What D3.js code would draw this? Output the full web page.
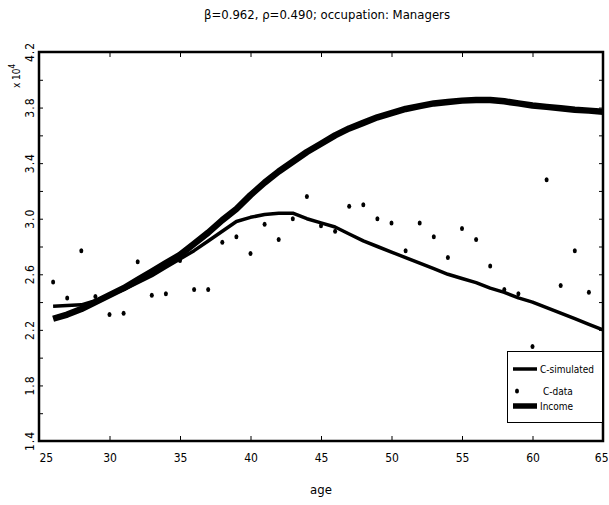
<!DOCTYPE html>
<html>
<head>
<meta charset="utf-8">
<script src="https://cdn.jsdelivr.net/npm/d3@7"></script>
<style>
  html, body { margin: 0; padding: 0; background: #fff; }
  svg { display: block; }
  text { font-family: "DejaVu Sans Condensed", "Liberation Sans Narrow", "Liberation Sans", sans-serif; fill: #000; }
</style>
</head>
<body>
<svg id="chart" width="609" height="505"></svg>
<script>
// ---- data (values in units of 10^4) ----
const ages = d3.range(26, 66);
const cSimulated = [2.37, 2.375, 2.38, 2.41, 2.45, 2.49, 2.54, 2.59, 2.65, 2.71,
  2.77, 2.84, 2.91, 2.98, 3.01, 3.03, 3.04, 3.04, 3.00, 2.97,
  2.94, 2.89, 2.84, 2.80, 2.76, 2.72, 2.68, 2.64, 2.60, 2.57,
  2.54, 2.50, 2.47, 2.43, 2.40, 2.36, 2.32, 2.28, 2.24, 2.20];
const cData = [2.545, 2.43, 2.77, 2.44, 2.31, 2.32, 2.69, 2.45, 2.46, 2.70,
  2.49, 2.49, 2.83, 2.87, 2.75, 2.96, 2.85, 3.00, 3.16, 2.95,
  2.91, 3.09, 3.10, 3.00, 2.97, 2.77, 2.97, 2.87, 2.72, 2.93,
  2.85, 2.66, 2.49, 2.46, 2.08, 3.28, 2.52, 2.77, 2.47, 1.63];
const income = [2.28, 2.31, 2.35, 2.40, 2.45, 2.50, 2.56, 2.62, 2.68, 2.74,
  2.82, 2.90, 2.99, 3.07, 3.17, 3.26, 3.34, 3.41, 3.48, 3.54,
  3.60, 3.65, 3.69, 3.73, 3.76, 3.79, 3.81, 3.83, 3.84, 3.85,
  3.855, 3.855, 3.845, 3.83, 3.815, 3.805, 3.795, 3.785, 3.778, 3.77];
const xTicks = [25, 30, 35, 40, 45, 50, 55, 60, 65];
const yTickLabels = [1.4, 1.8, 2.2, 2.6, 3.0, 3.4, 3.8, 4.2];
const yTicksAll = d3.range(0, 15).map(i => +(1.4 + i * 0.2).toFixed(1));
const legendLabels = ["C-simulated", "C-data", "Income"];
const titleText = "\u03B2=0.962, \u03C1=0.490; occupation: Managers";

// ---- layout ----
const L = 39, R = 603, T = 52, B = 441;
const svg = d3.select("#chart");
const x = d3.scaleLinear().domain([25, 65]).range([L, R]);
const y = d3.scaleLinear().domain([1.4, 4.2]).range([B, T]);

const line = d3.line().x((d, i) => x(ages[i])).y(d => y(d));

svg.append("defs").append("clipPath").attr("id", "clip")
  .append("rect").attr("x", L).attr("y", T).attr("width", R - L).attr("height", B - T);

const plot = svg.append("g").attr("clip-path", "url(#clip)");

// Income (thickest)
plot.append("path").datum(income)
  .attr("d", line).attr("fill", "none").attr("stroke", "#000")
  .attr("stroke-width", 6.5).attr("stroke-linejoin", "round");

// C-simulated
plot.append("path").datum(cSimulated)
  .attr("d", line).attr("fill", "none").attr("stroke", "#000")
  .attr("stroke-width", 3.5).attr("stroke-linejoin", "round");

// C-data points
plot.selectAll("ellipse.pt").data(cData).enter().append("ellipse")
  .attr("class", "pt")
  .attr("cx", (d, i) => x(ages[i])).attr("cy", d => y(d))
  .attr("rx", 2).attr("ry", 2.5).attr("fill", "#000");

// axes (ticks inward)
const xAxisB = d3.axisBottom(x).tickValues(xTicks).tickSize(-5).tickFormat(d3.format("d")).tickPadding(12);
const gxb = svg.append("g").attr("transform", `translate(0,${B})`).call(xAxisB);
gxb.select(".domain").remove();
gxb.selectAll("text").attr("font-size", 12).attr("font-family", null);
gxb.selectAll("text").filter(d => d === 25).attr("text-anchor", "start");
gxb.selectAll("text").filter(d => d === 65).attr("text-anchor", "end").attr("x", 5);

const xAxisT = d3.axisTop(x).tickValues(xTicks).tickSize(-5).tickFormat("");
const gxt = svg.append("g").attr("transform", `translate(0,${T})`).call(xAxisT);
gxt.select(".domain").remove();

const yAxisL = d3.axisLeft(y).tickValues(yTicksAll).tickSize(-4).tickFormat("");
const gyl = svg.append("g").attr("transform", `translate(${L},0)`).call(yAxisL);
gyl.select(".domain").remove();

const yAxisR = d3.axisRight(y).tickValues(yTicksAll).tickSize(-4).tickFormat("");
const gyr = svg.append("g").attr("transform", `translate(${R},0)`).call(yAxisR);
gyr.select(".domain").remove();

svg.selectAll(".tick line").attr("stroke", "#000").attr("stroke-width", 1);

// rotated y tick labels
svg.append("g").selectAll("text").data(yTickLabels).enter().append("text")
  .attr("transform", d => `translate(34,${y(d)}) rotate(-90)`)
  .attr("text-anchor", "middle")
  .attr("font-size", 12)
  .attr("letter-spacing", 1)
  .text(d => d.toFixed(1));

// x 10^4 multiplier
const mult = svg.append("text")
  .attr("transform", "translate(20,76) rotate(-90)")
  .attr("text-anchor", "middle").attr("font-size", 10);
mult.append("tspan").text("x 10");
mult.append("tspan").attr("dy", -5).attr("font-size", 8).text("4");

// frame
svg.append("rect").attr("x", L).attr("y", T).attr("width", R - L).attr("height", B - T)
  .attr("fill", "none").attr("stroke", "#000").attr("stroke-width", 2.5);

// title and x label
svg.append("text").attr("x", (L + R) / 2 + 6).attr("y", 19).attr("text-anchor", "middle")
  .attr("font-size", 13).text(titleText);
svg.append("text").attr("x", (L + R) / 2).attr("y", 494).attr("text-anchor", "middle")
  .attr("font-size", 13).text("age");

// legend
const lg = svg.append("g");
lg.append("rect").attr("x", 507.5).attr("y", 351.5).attr("width", 95).attr("height", 71)
  .attr("fill", "#fff").attr("stroke", "#000").attr("stroke-width", 1);
const legY = [369, 391, 406];
lg.append("line").attr("x1", 513).attr("x2", 537).attr("y1", legY[0]).attr("y2", legY[0])
  .attr("stroke", "#000").attr("stroke-width", 3.5);
lg.append("ellipse").attr("cx", 517).attr("cy", legY[1]).attr("rx", 2).attr("ry", 2.5).attr("fill", "#000");
lg.append("line").attr("x1", 513).attr("x2", 537).attr("y1", legY[2]).attr("y2", legY[2])
  .attr("stroke", "#000").attr("stroke-width", 5.5);
lg.selectAll("text.leg").data(legendLabels).enter().append("text")
  .attr("class", "leg")
  .attr("x", (d, i) => i === 1 ? 543 : 540)
  .attr("y", (d, i) => legY[i] + 4)
  .attr("font-size", 10)
  .text(d => d);
</script>
</body>
</html>
